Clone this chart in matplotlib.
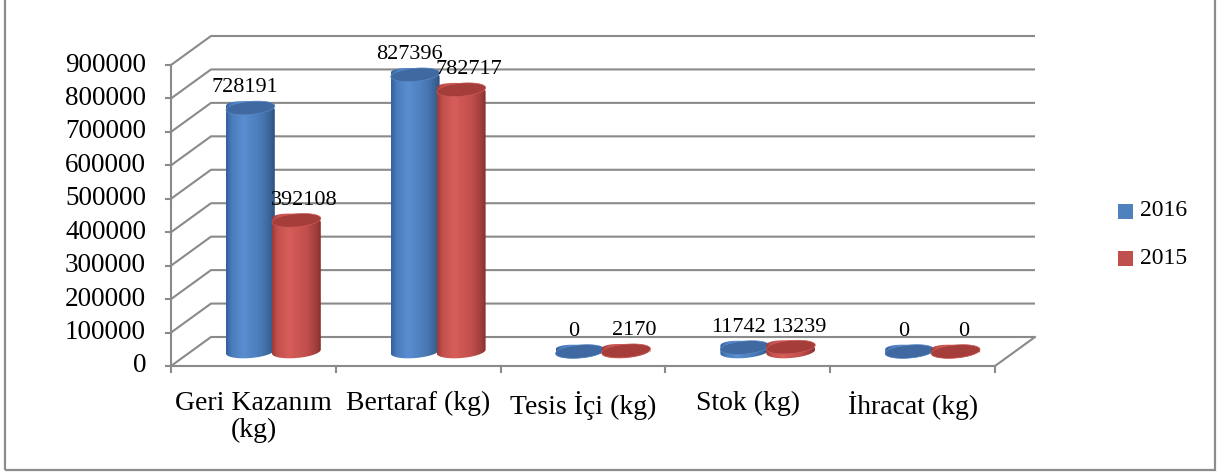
import numpy as np
import matplotlib
matplotlib.use('Agg')
import matplotlib.pyplot as plt
from matplotlib.patches import Polygon, Rectangle
from matplotlib.colors import LinearSegmentedColormap
from matplotlib.transforms import offset_copy

# Data
categories = ['Geri Kazanım\n(kg)', 'Bertaraf (kg)', 'Tesis İçi (kg)', 'Stok (kg)', 'İhracat (kg)']
years = ['2016', '2015']
values_2016 = [728191, 827396, 0, 11742, 0]
values_2015 = [392108, 782717, 2170, 13239, 0]
yticks = np.arange(0, 900001, 100000)

plt.rcParams['font.family'] = ['Liberation Serif', 'DejaVu Serif']

W, H = 1225, 475
fig = plt.figure(figsize=(W / 100, H / 100), dpi=100)
ax = fig.add_axes([171 / W, 1 - 366 / H, (995 - 171) / W, (366 - 65) / H])
ax.set_xlim(-0.5, 4.5)
ax.set_ylim(0, 900000)
ax.axis('off')

# pixel <-> data scale factors
sx = (995 - 171) / 5.0
sy = (366 - 65) / 900000.0
ddx = 40 / sx           # depth shift, data units
ddy = 29 / sy

def proj(x, v, d):
    return x + d * ddx, v + d * ddy

gcol = '#8a8a8a'
glw = 1.5

# back wall gridlines + left wall diagonals
for v in yticks:
    x0, y0 = proj(-0.5, v, 0)
    x1, y1 = proj(-0.5, v, 1)
    x2, y2 = proj(4.5, v, 1)
    ax.plot([x0, x1, x2], [y0, y1, y2], color=gcol, lw=glw, clip_on=False,
            solid_capstyle='butt', zorder=1)

# floor front edge and right side
xr, yr = proj(4.5, 0, 1)
ax.plot([-0.5, 4.5, xr], [0, 0, yr], color=gcol, lw=glw, clip_on=False, zorder=1)
# value axis
ax.plot([-0.5, -0.5], [0, 900000], color=gcol, lw=glw, clip_on=False, zorder=1)
for v in yticks:
    ax.plot([-0.5 - 5 / sx, -0.5], [v, v], color=gcol, lw=glw, clip_on=False, zorder=1)
    ax.text(-0.5, v, f'{v}', ha='right', va='center', fontsize=19.5,
            transform=offset_copy(ax.transData, fig, x=-25, y=0, units='dots'))
for k in range(6):
    ax.plot([k - 0.5, k - 0.5], [0, -6 / sy], color=gcol, lw=glw, clip_on=False, zorder=1)

for i, c in enumerate(categories):
    ax.text(i, 0, c, ha='center', va='top', fontsize=20, linespacing=1.12,
            transform=offset_copy(ax.transData, fig, x=0, y=-25, units='dots'))

# cylinders
cmaps = [
    LinearSegmentedColormap.from_list('b', [(0, '#33609b'), (0.12, '#4a7dbd'), (0.35, '#5a8ed0'),
                                            (0.7, '#4a7bb8'), (0.9, '#3b6497'), (1, '#2e5180')]),
    LinearSegmentedColormap.from_list('r', [(0, '#9a3a38'), (0.12, '#c4514e'), (0.35, '#d65d5a'),
                                            (0.7, '#c24f4c'), (0.9, '#a03f3d'), (1, '#86302e')]),
]
top_colors = ['#3f69a0', '#a53d3b']
rim_colors = ['#5687c6', '#c95a56']
legend_colors = ['#4f81bd', '#c0504d']
label_dx = [-6, 8]

a_px, b_px, ang = 24.5, 6.5, np.deg2rad(5)
t = np.linspace(0, 2 * np.pi, 361)
ex = a_px * np.cos(t)
ey = b_px * np.sin(t)
px = ex * np.cos(ang) - ey * np.sin(ang)
py = ex * np.sin(ang) + ey * np.cos(ang)
il, ir = np.argmin(px), np.argmax(px)
# lower chain: leftmost -> rightmost through the bottom
idx = np.arange(il, il + 361) % 361
chain = idx[:((ir - il) % 361) + 1]
low_x, low_y = px[chain], py[chain]
if low_y.mean() > 0:
    chain = idx[((ir - il) % 361):][::-1]
    low_x, low_y = px[chain], py[chain]

def cylinder(xc, v, k):
    base = 0.5 * ddy
    top = v + 0.5 * ddy
    bx = xc + low_x / sx
    by = base + low_y / sy
    tx = xc + low_x[::-1] / sx
    ty = top - low_y[::-1] / sy
    body = Polygon(np.column_stack([np.r_[bx, tx], np.r_[by, ty]]), closed=True,
                   facecolor='none', edgecolor='none', zorder=3 + k)
    ax.add_patch(body)
    grad = np.linspace(0, 1, 256).reshape(1, -1)
    im = ax.imshow(grad, cmap=cmaps[k], aspect='auto', interpolation='bilinear',
                   extent=[xc - a_px / sx, xc + a_px / sx, base - 10 / sy, top + 10 / sy],
                   zorder=3 + k)
    im.set_clip_path(body)
    ex_ = xc + px / sx
    ey_ = top + py / sy
    ax.add_patch(Polygon(np.column_stack([ex_, ey_]), closed=True, facecolor=top_colors[k],
                         edgecolor=rim_colors[k], lw=0.5, zorder=3 + k))
    ax.text(xc, top, f'{v}', ha='center', va='center', fontsize=16,
            transform=offset_copy(ax.transData, fig, x=label_dx[k], y=20, units='dots'),
            zorder=10)

for i in range(len(categories)):
    for k, vals in enumerate([values_2016, values_2015]):
        xc = i + 0.5 * ddx + (-23 if k == 0 else 23) / sx
        cylinder(xc, vals[i], k)

ax.set_xlim(-0.5, 4.5)
ax.set_ylim(0, 900000)

# legend
for k, (lab, yc) in enumerate(zip(years, [211, 258])):
    fig.patches.append(Rectangle((1118 / W, 1 - (yc + 7.5) / H), 15 / W, 15 / H,
                                 transform=fig.transFigure, facecolor=legend_colors[k],
                                 edgecolor='none'))
    fig.text(1140 / W, 1 - yc / H, lab, ha='left', va='center', fontsize=17)

# outer frame
fig.patches.append(Rectangle((5 / W, 5 / H), 1210 / W, 1.0, transform=fig.transFigure,
                             facecolor='none', edgecolor='#8c8c8c', lw=1.6))

fig.savefig('out.png', dpi=100)
